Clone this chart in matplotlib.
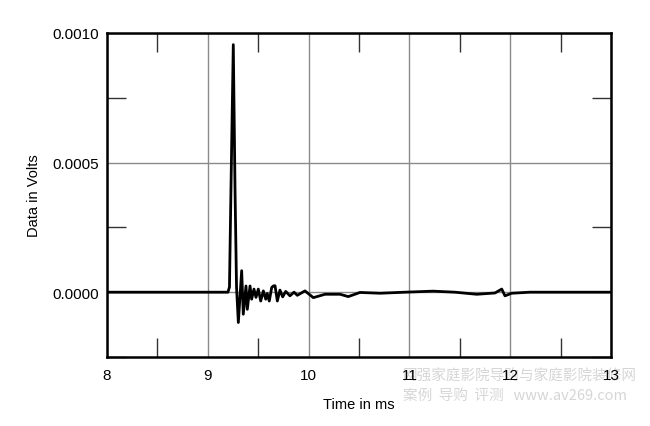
import numpy as np
import matplotlib
matplotlib.use('Agg')
import matplotlib.pyplot as plt
from matplotlib.ticker import MultipleLocator, FormatStrFormatter

plt.rcParams['font.family'] = ['Liberation Sans', 'DejaVu Sans']

# impulse response (ms, volts)
time_ms = [8.000, 9.200, 9.215, 9.230, 9.253, 9.270, 9.285, 9.303, 9.336,
           9.352, 9.379, 9.392, 9.419, 9.435, 9.458, 9.478, 9.501, 9.525,
           9.551, 9.575, 9.590, 9.610, 9.634, 9.650, 9.667, 9.690, 9.716,
           9.743, 9.773, 9.815, 9.855, 9.888, 9.964, 10.047, 10.163, 10.312,
           10.394, 10.510, 10.708, 10.956, 11.234, 11.452, 11.668, 11.849,
           11.916, 11.948, 12.015, 12.196, 13.000]
volts = [0.0, 0.0, 0.00002, 0.00040, 0.000955, 0.00040, 0.00002, -0.000117,
         0.000083, -0.000085, 0.000024, -0.000066, 0.000024, -0.000027,
         0.000012, -0.000020, 0.000012, -0.000034, 0.000005, -0.000027,
         -0.000005, -0.000034, 0.000018, 0.000024, 0.000025, -0.000034,
         0.000008, -0.000018, 0.000003, -0.000014, 0.0, -0.000012, 0.000005,
         -0.000021, -0.000008, -0.000008, -0.000017, -0.000001, -0.000004,
         0.0, 0.000004, 0.0, -0.000008, -0.000003, 0.000012, -0.000014,
         -0.000004, 0.0, 0.0]

watermark_1 = '网强家庭影院导购与家庭影院装修网'
watermark_2 = '案例  导购  评测   www.av269.com'

fig = plt.figure(figsize=(6.5, 4.27), dpi=100)
ax = fig.add_axes([0.1646, 0.1616, 0.7754, 0.7588])

ax.plot(time_ms, volts, color='black', linewidth=2.0, zorder=3,
        solid_joinstyle='round')

ax.set_xlim(8, 13)
ax.set_ylim(-0.00025, 0.0010)
ax.xaxis.set_major_locator(MultipleLocator(1))
ax.xaxis.set_minor_locator(MultipleLocator(0.5))
ax.yaxis.set_major_locator(MultipleLocator(0.0005))
ax.yaxis.set_minor_locator(MultipleLocator(0.00025))
ax.yaxis.set_major_formatter(FormatStrFormatter('%.4f'))

ax.grid(True, which='major', color='#8a8a8a', linewidth=1.0)
ax.tick_params(which='major', length=0, labelsize=11, pad=8)
ax.tick_params(axis='y', which='major', pad=6)
ax.tick_params(which='minor', direction='in', length=14, width=1.0,
               color='#333333', top=True, right=True)
for spine in ax.spines.values():
    spine.set_linewidth(1.8)
    spine.set_color('black')

ax.set_xlabel('Time in ms', fontsize=10.5, labelpad=11)
ax.set_ylabel('Data in Volts', fontsize=10.5, labelpad=8)

# faint site watermark in the lower right corner, behind the tick labels
wm = dict(color='#d6d6d6', fontsize=10.5, ha='left', va='center',
          family=['Noto Sans CJK SC', 'DejaVu Sans'], zorder=-1)
fig.text(403 / 650, 1 - 377 / 427, watermark_1, **wm)
fig.text(403 / 650, 1 - 397 / 427, watermark_2, **wm)

fig.savefig('out.png', dpi=100)
